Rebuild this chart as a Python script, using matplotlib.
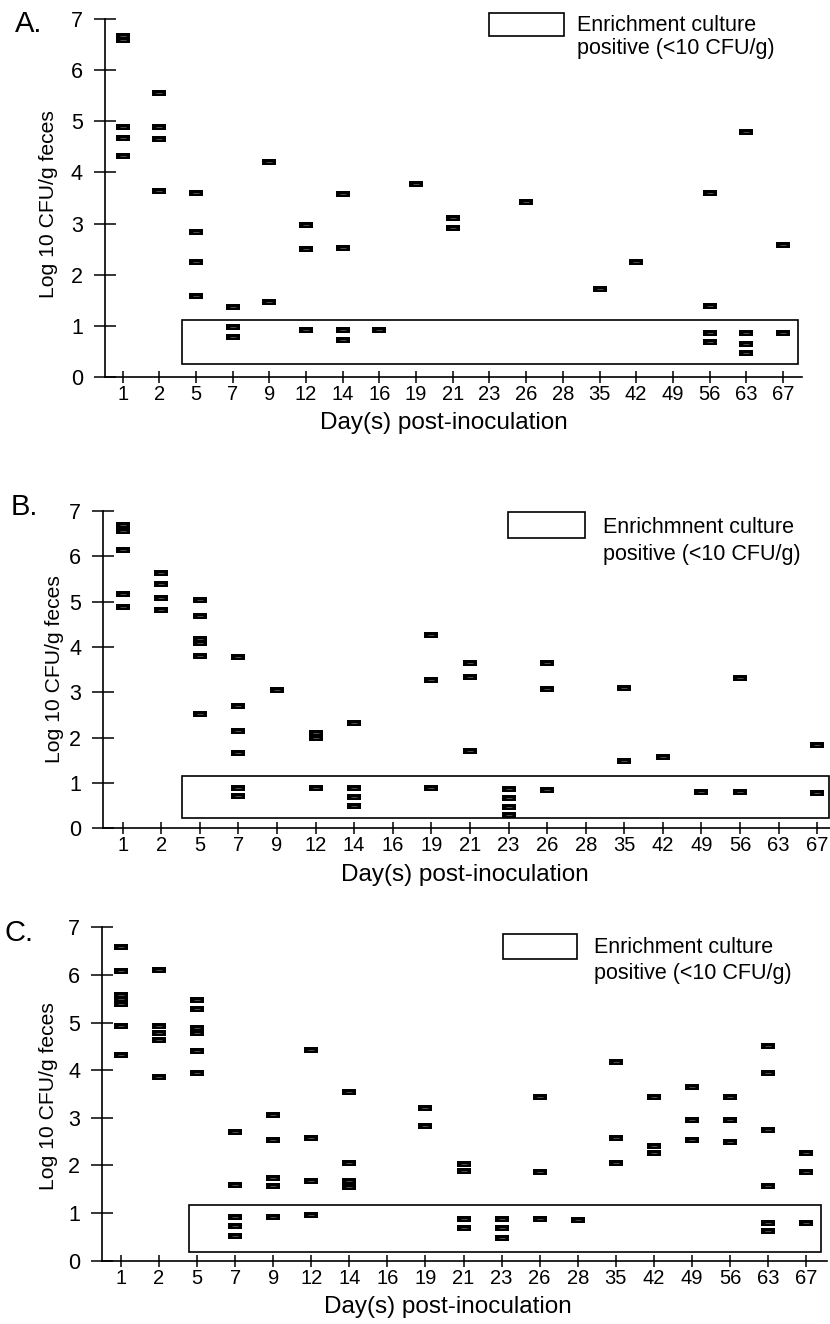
import numpy as np
import matplotlib
matplotlib.use('Agg')
import matplotlib.pyplot as plt
from matplotlib.path import Path
from matplotlib.patches import Rectangle
from matplotlib.transforms import Affine2D

plt.rcParams['font.family'] = 'Liberation Sans'

# sampling days (categorical x axis)
days = ['1', '2', '5', '7', '9', '12', '14', '16', '19', '21', '23', '26',
        '28', '35', '42', '49', '56', '63', '67']

# panel A - one entry per animal sample
a_day = ['1', '1', '1', '1', '1',
         '2', '2', '2', '2',
         '5', '5', '5', '5',
         '7', '7', '7',
         '9', '9',
         '12', '12', '12',
         '14', '14', '14', '14',
         '16', '19', '21', '21', '26', '35', '42',
         '56', '56', '56', '56',
         '63', '63', '63', '63',
         '67', '67']
a_log = [6.68, 6.60, 4.90, 4.68, 4.33,
         5.56, 4.90, 4.66, 3.64,
         3.59, 2.84, 2.25, 1.59,
         1.36, 0.98, 0.78,
         4.21, 1.46,
         2.97, 2.50, 0.91,
         3.57, 2.53, 0.91, 0.72,
         0.91, 3.78, 3.10, 2.91, 3.42, 1.71, 2.25,
         3.59, 1.38, 0.86, 0.67,
         4.79, 0.86, 0.65, 0.46,
         2.57, 0.85]

# panel B
b_day = ['1', '1', '1', '1', '1',
         '2', '2', '2', '2',
         '5', '5', '5', '5', '5', '5',
         '7', '7', '7', '7', '7', '7',
         '9',
         '12', '12', '12',
         '14', '14', '14', '14',
         '19', '19', '19',
         '21', '21', '21',
         '23', '23', '23', '23',
         '26', '26', '26',
         '35', '35', '42', '49', '56', '56', '67', '67']
b_log = [6.70, 6.55, 6.15, 5.16, 4.89,
         5.63, 5.40, 5.07, 4.81,
         5.04, 4.68, 4.17, 4.08, 3.81, 2.53,
         3.79, 2.70, 2.15, 1.66, 0.90, 0.71,
         3.06,
         2.10, 1.99, 0.88,
         2.33, 0.88, 0.69, 0.49,
         4.27, 3.28, 0.88,
         3.65, 3.34, 1.71,
         0.87, 0.66, 0.47, 0.29,
         3.65, 3.08, 0.85,
         3.09, 1.49, 1.58, 0.81, 3.31, 0.81, 1.83, 0.78]

# panel C
c_day = ['1', '1', '1', '1', '1', '1', '1',
         '2', '2', '2', '2', '2',
         '5', '5', '5', '5', '5', '5',
         '7', '7', '7', '7', '7',
         '9', '9', '9', '9', '9',
         '12', '12', '12', '12',
         '14', '14', '14', '14',
         '19', '19',
         '21', '21', '21', '21',
         '23', '23', '23',
         '26', '26', '26',
         '28',
         '35', '35', '35',
         '42', '42', '42',
         '49', '49', '49',
         '56', '56', '56',
         '63', '63', '63', '63', '63', '63',
         '67', '67', '67']
c_log = [6.59, 6.09, 5.58, 5.49, 5.40, 4.93, 4.32,
         6.10, 4.93, 4.79, 4.64, 3.86,
         5.47, 5.28, 4.89, 4.79, 4.40, 3.94,
         2.70, 1.58, 0.92, 0.73, 0.52,
         3.06, 2.54, 1.74, 1.57, 0.91,
         4.42, 2.57, 1.67, 0.96,
         3.54, 2.06, 1.67, 1.55,
         3.21, 2.82,
         2.03, 1.89, 0.88, 0.69,
         0.88, 0.69, 0.48,
         3.43, 1.87, 0.87,
         0.86,
         4.17, 2.57, 2.06,
         3.43, 2.41, 2.27,
         3.65, 2.95, 2.53,
         3.44, 2.96, 2.50,
         4.50, 3.94, 2.75, 1.57, 0.80, 0.62,
         2.27, 1.86, 0.80]

# enrichment-positive region per panel: (x from, x to, log from, log to)
a_enrich = (1.62, 18.40, 0.24, 1.11)
b_enrich = (1.54, 18.31, 0.22, 1.16)
c_enrich = (1.79, 18.39, 0.19, 1.17)

legend_a = ['Enrichment culture', 'positive (<10 CFU/g)']
legend_b = ['Enrichmnent culture', 'positive (<10 CFU/g)']
legend_c = ['Enrichment culture', 'positive (<10 CFU/g)']

W, H = 830, 1324
fig = plt.figure(figsize=(W / 100, H / 100), dpi=100)
# pixel coords, origin top-left
px = Affine2D().scale(1 / W, -1 / H).translate(0, 1) + fig.transFigure

# flat black bar marker, roughly 2:1
bar = Path([(-1, -0.5), (1, -0.5), (1, 0.5), (-1, 0.5), (-1, -0.5)],
           [Path.MOVETO, Path.LINETO, Path.LINETO, Path.LINETO, Path.CLOSEPOLY])

panels = [
    dict(tag='A.', day=a_day, log=a_log, enrich=a_enrich, leg=legend_a,
         box=(105, 802, 19.3, 376.7), xlim=(-0.48, 18.52),
         tag_xy=(29, 24), ylab_xy=(58, 204), xlab_xy=(444, 412),
         leg_box=(489, 564, 13, 36), leg_txt=(577, 31, 54)),
    dict(tag='B.', day=b_day, log=b_log, enrich=b_enrich, leg=legend_b,
         box=(103.3, 830, 511, 828.3), xlim=(-0.50, 18.33),
         tag_xy=(24, 507), ylab_xy=(64, 669), xlab_xy=(465, 864),
         leg_box=(508, 585, 512, 538), leg_txt=(603, 533, 560)),
    dict(tag='C.', day=c_day, log=c_log, enrich=c_enrich, leg=legend_c,
         box=(102.3, 826.7, 927.3, 1260.7), xlim=(-0.49, 18.54),
         tag_xy=(19, 933), ylab_xy=(58, 1096), xlab_xy=(448, 1296),
         leg_box=(503, 577, 934, 959), leg_txt=(594, 953, 979)),
]

for p in panels:
    x0, x1, yt, yb = p['box']
    ax = fig.add_axes([x0 / W, 1 - yb / H, (x1 - x0) / W, (yb - yt) / H])
    ax.set_xlim(*p['xlim'])
    ax.set_ylim(0, 7)

    xi = np.array([days.index(d) for d in p['day']])
    yv = np.array(p['log'])
    ax.plot(xi, yv, ls='none', marker=bar, ms=9.8, mfc='black', mec='black',
            mew=0, clip_on=False, zorder=3)
    # faint scan texture inside each mark
    ax.plot(xi, yv, ls='none', marker='_', ms=4.5, mec='#6e6e6e', mew=0.5,
            clip_on=False, zorder=4)

    ex0, ex1, ey0, ey1 = p['enrich']
    ax.add_patch(Rectangle((ex0, ey0), ex1 - ex0, ey1 - ey0, fill=False,
                           lw=1.2, ec='black', clip_on=False, zorder=2))

    for s in ['top', 'right']:
        ax.spines[s].set_visible(False)
    for s in ['left', 'bottom']:
        ax.spines[s].set_linewidth(1.2)

    ax.set_xticks(range(len(days)))
    ax.set_xticklabels(days)
    ax.set_yticks(range(8))
    ax.tick_params(axis='x', direction='inout', length=8.6, width=1.1,
                   pad=1.5, labelsize=14.5)
    ax.tick_params(axis='y', direction='inout', length=16, width=1.1,
                   pad=8, labelsize=15.5)

    ax.set_ylabel('Log 10 CFU/g feces', fontsize=15.2)
    ax.yaxis.set_label_coords(*p['ylab_xy'], transform=px)
    ax.set_xlabel('Day(s) post-inoculation', fontsize=17.5)
    ax.xaxis.set_label_coords(*p['xlab_xy'], transform=px)

    fig.text(*p['tag_xy'], p['tag'], transform=px, fontsize=21,
             ha='center', va='center')

    lx0, lx1, ly0, ly1 = p['leg_box']
    fig.add_artist(Rectangle((lx0, ly1), lx1 - lx0, ly0 - ly1, fill=False,
                             lw=1.2, ec='black', transform=px))
    tx, b1, b2 = p['leg_txt']
    fig.text(tx, b1, p['leg'][0], transform=px, fontsize=15.5, va='baseline')
    fig.text(tx, b2, p['leg'][1], transform=px, fontsize=15.5, va='baseline')

fig.savefig('out.png', dpi=100)
